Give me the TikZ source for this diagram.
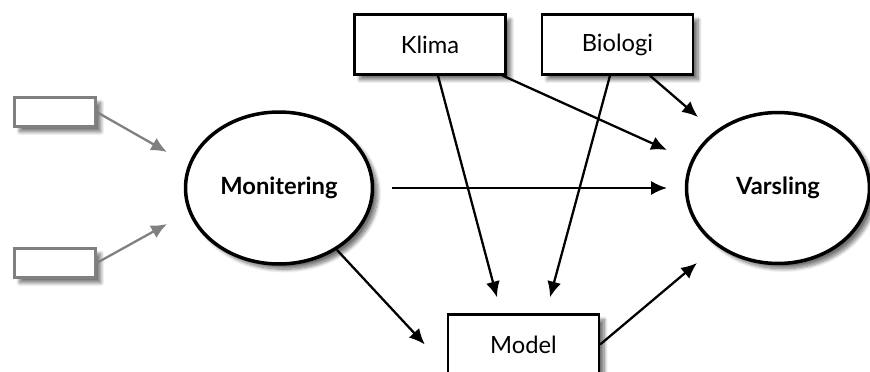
\documentclass[tikz,border=0pt]{standalone}
\usepackage{fontspec}
\setmainfont{Lato}
\usetikzlibrary{arrows.meta,shapes.geometric,shadows.blur}

\begin{document}
\begin{tikzpicture}[x=0.02cm, y=-0.02cm,
    soft/.style={blur shadow={shadow xshift=3pt, shadow yshift=-3pt, shadow blur steps=10, shadow opacity=55}},
    bigoval/.style={ellipse, draw, line width=2pt, fill=white, inner sep=0pt, soft, font=\fontsize{13.5}{15}\selectfont\bfseries},
    topbox/.style={rectangle, draw, line width=1.3pt, fill=white, minimum width=3.02cm, minimum height=1.2cm, inner sep=0pt, soft, font=\fontsize{13.5}{15}\selectfont},
    inbox/.style={rectangle, draw=gray, line width=1.3pt, fill=white, minimum width=1.62cm, minimum height=0.58cm, inner sep=0pt, soft},
    link/.style={line width=1.3pt, -{Latex[length=9pt,width=8pt]}},
    graylink/.style={link, draw=gray, -{Latex[length=9pt,width=8pt,color=gray]}}]
    \useasboundingbox (0,0) rectangle (870,372);
    % inputs
    \node[inbox] (in1) at (55,112) {};
    \node[inbox] (in2) at (55,263) {};
    % main
    \node[bigoval, minimum width=3.74cm, minimum height=3.04cm] (mon) at (279,188) {Monitering};
    \node[bigoval, minimum width=3.66cm, minimum height=3.02cm] (var) at (778,188) {Varsling};
    % drivers
    \node[topbox] (klima) at (430,44.5) {Klima};
    \node[topbox] (bio) at (617.5,44.5) {Biologi};
    \node[topbox] (model) at (523.5,344.5) {Model};
    % arrows in
    \draw[graylink] (in1.east) -- ([shift={(-112,-36)}]mon.center);
    \draw[graylink] (in2.east) -- ([shift={(-112,36)}]mon.center);
    % arrows
    \draw[link] ([shift={(113,0)}]mon.center) -- ([shift={(-111,0)}]var.center);
    \draw[link] ([shift={(-4,0)}]klima.south east) -- ([shift={(-111,-38)}]var.center);
    \draw[link] ([shift={(32.5,0)}]bio.south) -- ([shift={(-80,-71)}]var.center);
    \draw[link] ([shift={(8,0)}]klima.south) -- ([shift={(-26.5,-16)}]model.north);
    \draw[link] ([shift={(-7.5,0)}]bio.south) -- ([shift={(26.5,-16)}]model.north);
    \draw[link] ([shift={(58,62)}]mon.center) -- ([shift={(-22,0)}]model.west);
    \draw[link] (model.east) -- ([shift={(-81,75)}]var.center);
\end{tikzpicture}
\end{document}
